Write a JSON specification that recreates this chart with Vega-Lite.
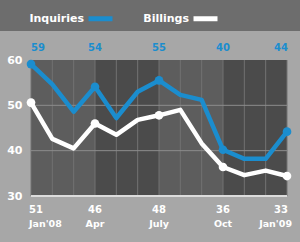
{
  "$schema": "https://vega.github.io/schema/vega-lite/v6.json",
  "width": 300,
  "height": 211,
  "autosize": {"type": "none"},
  "padding": {"top": 31, "left": 0, "right": 0, "bottom": 0},
  "background": "#6d6d6d",
  "config": {
    "view": {"fill": "#a7a7a7", "stroke": null},
    "font": "DejaVu Sans",
    "axisY": {"domain": false, "ticks": false, "grid": false, "labelPadding": 9, "labelColor": "#ffffff",
              "labelFont": "DejaVu Sans", "labelFontWeight": "bold", "labelFontSize": 11}
  },
  "datasets": {
    "months": [
      {"m": 0, "month": "Jan'08", "Inquiries": 59.1, "Billings": 50.6, "inqLabel": "59", "bilLabel": "51"},
      {"m": 1, "Inquiries": 54.6, "Billings": 42.6},
      {"m": 2, "Inquiries": 48.6, "Billings": 40.5},
      {"m": 3, "month": "Apr", "Inquiries": 54.1, "Billings": 46.0, "inqLabel": "54", "bilLabel": "46"},
      {"m": 4, "Inquiries": 47.2, "Billings": 43.5},
      {"m": 5, "Inquiries": 53.0, "Billings": 46.8},
      {"m": 6, "month": "July", "Inquiries": 55.5, "Billings": 47.8, "inqLabel": "55", "bilLabel": "48"},
      {"m": 7, "Inquiries": 52.3, "Billings": 49.0},
      {"m": 8, "Inquiries": 51.2, "Billings": 41.6},
      {"m": 9, "month": "Oct", "Inquiries": 40.2, "Billings": 36.4, "inqLabel": "40", "bilLabel": "36"},
      {"m": 10, "Inquiries": 38.2, "Billings": 34.6},
      {"m": 11, "Inquiries": 38.2, "Billings": 35.6},
      {"m": 12, "month": "Jan'09", "Inquiries": 44.2, "Billings": 34.4, "inqLabel": "44", "bilLabel": "33"}
    ],
    "quarters": [
      {"start": 0, "end": 3, "shade": "light"},
      {"start": 3, "end": 6, "shade": "dark"},
      {"start": 6, "end": 9, "shade": "light"},
      {"start": 9, "end": 12, "shade": "dark"}
    ],
    "gridlines": [{"v": 40}, {"v": 50}]
  },
  "layer": [
    {
      "data": {"name": "quarters"},
      "mark": {"type": "rect"},
      "encoding": {
        "x": {"field": "start", "type": "quantitative", "scale": {"domain": [0, 12], "range": [31, 287]}, "axis": null},
        "x2": {"field": "end"},
        "y": {"datum": 30, "type": "quantitative", "scale": {"domain": [30, 60], "range": [165, 29]},
              "axis": {"values": [30, 40, 50, 60], "offset": -31, "title": null}},
        "y2": {"datum": 60},
        "fill": {"field": "shade", "type": "nominal", "scale": {"domain": ["light", "dark"], "range": ["#5d5d5d", "#4b4b4b"]}, "legend": null}
      }
    },
    {
      "data": {"name": "months"},
      "mark": {"type": "rule", "color": "#727272", "strokeWidth": 1},
      "encoding": {
        "x": {"field": "m", "type": "quantitative", "scale": {"domain": [0, 12], "range": [31, 287]}, "axis": null},
        "y": {"datum": 30, "type": "quantitative", "scale": {"domain": [30, 60], "range": [165, 29]},
              "axis": {"values": [30, 40, 50, 60], "offset": -31, "title": null}},
        "y2": {"datum": 60}
      }
    },
    {
      "data": {"name": "gridlines"},
      "mark": {"type": "rule", "color": "#8c8c8c", "strokeWidth": 1},
      "encoding": {
        "x": {"datum": 0, "type": "quantitative", "scale": {"domain": [0, 12], "range": [31, 287]}, "axis": null},
        "x2": {"datum": 12},
        "y": {"field": "v", "type": "quantitative", "scale": {"domain": [30, 60], "range": [165, 29]},
              "axis": {"values": [30, 40, 50, 60], "offset": -31, "title": null}}
      }
    },
    {
      "data": {"values": [{}]},
      "mark": {"type": "rule", "color": "#dcdcdc", "strokeWidth": 2},
      "encoding": {
        "x": {"datum": 0, "type": "quantitative", "scale": {"domain": [0, 12], "range": [31, 287]}, "axis": null},
        "x2": {"datum": 12},
        "y": {"datum": 30, "type": "quantitative", "scale": {"domain": [30, 60], "range": [165, 29]},
              "axis": {"values": [30, 40, 50, 60], "offset": -31, "title": null}}
      }
    },
    {
      "data": {"name": "months"},
      "transform": [{"fold": ["Billings", "Inquiries"], "as": ["series", "value"]}],
      "mark": {"type": "line", "strokeWidth": 4.5, "strokeJoin": "round", "strokeCap": "round"},
      "encoding": {
        "x": {"field": "m", "type": "quantitative", "scale": {"domain": [0, 12], "range": [31, 287]}, "axis": null},
        "y": {"field": "value", "type": "quantitative", "scale": {"domain": [30, 60], "range": [165, 29]},
              "axis": {"values": [30, 40, 50, 60], "offset": -31, "title": null}},
        "color": {"field": "series", "type": "nominal",
                  "scale": {"domain": ["Inquiries", "Billings"], "range": ["#1b8dce", "#ffffff"]},
                  "legend": {"orient": "none", "legendX": 86, "legendY": -27, "direction": "horizontal", "title": null,
                             "symbolType": "stroke", "symbolStrokeWidth": 5, "symbolSize": 576,
                             "labelAlign": "right", "labelOffset": -31, "labelFont": "DejaVu Sans", "labelFontWeight": "bold",
                             "labelFontSize": 11, "labelColor": "#ffffff", "columnPadding": 20}}
      }
    },
    {
      "data": {"name": "months"},
      "transform": [{"filter": "isValid(datum.month)"}, {"fold": ["Billings", "Inquiries"], "as": ["series", "value"]}],
      "mark": {"type": "circle", "size": 75, "opacity": 1},
      "encoding": {
        "x": {"field": "m", "type": "quantitative", "scale": {"domain": [0, 12], "range": [31, 287]}, "axis": null},
        "y": {"field": "value", "type": "quantitative", "scale": {"domain": [30, 60], "range": [165, 29]},
              "axis": {"values": [30, 40, 50, 60], "offset": -31, "title": null}},
        "color": {"field": "series", "type": "nominal", "scale": {"domain": ["Inquiries", "Billings"], "range": ["#1b8dce", "#ffffff"]}}
      }
    },
    {
      "data": {"name": "months"},
      "transform": [{"filter": "isValid(datum.month)"}],
      "mark": {"type": "text", "color": "#1b8dce", "font": "DejaVu Sans", "fontWeight": "bold", "fontSize": 10,
               "baseline": "alphabetic", "dy": -9,
               "align": {"expr": "datum.m == 0 ? 'left' : datum.m == 12 ? 'right' : 'center'"},
               "dx": {"expr": "datum.m == 12 ? 1 : 0"}},
      "encoding": {
        "x": {"field": "m", "type": "quantitative", "scale": {"domain": [0, 12], "range": [31, 287]}, "axis": null},
        "y": {"datum": 60, "type": "quantitative", "scale": {"domain": [30, 60], "range": [165, 29]},
              "axis": {"values": [30, 40, 50, 60], "offset": -31, "title": null}},
        "text": {"field": "inqLabel"}
      }
    },
    {
      "data": {"name": "months"},
      "transform": [{"filter": "isValid(datum.month)"}],
      "mark": {"type": "text", "color": "#ffffff", "font": "DejaVu Sans", "fontWeight": "bold", "fontSize": 10,
               "baseline": "alphabetic", "dy": 17,
               "align": {"expr": "datum.m == 0 ? 'left' : datum.m == 12 ? 'right' : 'center'"},
               "dx": {"expr": "datum.m == 0 ? -2 : datum.m == 12 ? 1 : 0"}},
      "encoding": {
        "x": {"field": "m", "type": "quantitative", "scale": {"domain": [0, 12], "range": [31, 287]}, "axis": null},
        "y": {"datum": 30, "type": "quantitative", "scale": {"domain": [30, 60], "range": [165, 29]},
              "axis": {"values": [30, 40, 50, 60], "offset": -31, "title": null}},
        "text": {"field": "bilLabel"}
      }
    },
    {
      "data": {"name": "months"},
      "transform": [{"filter": "isValid(datum.month)"}],
      "mark": {"type": "text", "color": "#ffffff", "font": "DejaVu Sans", "fontWeight": "bold", "fontSize": 9.5,
               "baseline": "alphabetic", "dy": 31,
               "align": {"expr": "datum.m == 0 ? 'left' : datum.m == 12 ? 'right' : 'center'"},
               "dx": {"expr": "datum.m == 0 ? -2 : datum.m == 12 ? 5 : 0"}},
      "encoding": {
        "x": {"field": "m", "type": "quantitative", "scale": {"domain": [0, 12], "range": [31, 287]}, "axis": null},
        "y": {"datum": 30, "type": "quantitative", "scale": {"domain": [30, 60], "range": [165, 29]},
              "axis": {"values": [30, 40, 50, 60], "offset": -31, "title": null}},
        "text": {"field": "month"}
      }
    }
  ]
}
